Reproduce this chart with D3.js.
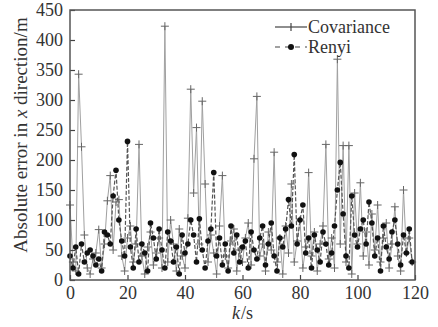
<!DOCTYPE html>
<html>
<head>
<meta charset="utf-8">
<script src="https://cdn.jsdelivr.net/npm/d3@7"></script>
<style>
  body { margin: 0; background: #fff; }
  svg text { font-family: "Liberation Serif", "Times New Roman", Times, serif; fill: #333; }
</style>
</head>
<body>
<div id="chart"></div>
<script>
// absolute error in x direction (m), one value per second k = 0..119
var covariance = [125, 30, 15, 343, 222, 75, 20, 10, 35, 45,
    84, 20, 60, 132, 174, 50, 130, 134, 40, 15,
    70, 90, 30, 60, 226, 40, 10, 55, 80, 25,
    45, 70, 20, 423, 30, 100, 60, 15, 85, 40,
    20, 103, 318, 145, 254, 60, 298, 160, 30, 75,
    45, 10, 90, 174, 40, 20, 65, 85, 15, 50,
    30, 70, 95, 25, 202, 306, 40, 60, 15, 80,
    50, 213, 30, 70, 10, 90, 45, 160, 30, 65,
    100, 20, 55, 179, 40, 80, 15, 60, 90, 226,
    35, 70, 20, 368, 60, 224, 30, 224, 10, 145,
    60, 162, 40, 80, 25, 110, 50, 125, 30, 70,
    95, 20, 60, 122, 40, 15, 150, 45, 70, 30];

var renyi = [40, 20, 55, 10, 60, 30, 45, 50, 40, 25,
    35, 15, 80, 75, 60, 140, 183, 100, 65, 40,
    231, 55, 20, 85, 30, 60, 45, 15, 95, 70,
    35, 85, 50, 20, 80, 65, 30, 55, 10, 75,
    45, 60, 100, 75, 30, 102, 50, 20, 65, 85,
    179, 40, 70, 25, 60, 15, 90, 45, 75, 30,
    55, 65, 20, 80, 50, 35, 70, 90, 25, 60,
    95, 40, 15, 70, 55, 85, 134, 90, 209, 60,
    100, 125, 45, 70, 20, 75, 50, 30, 80, 60,
    25, 45, 90, 150, 196, 110, 40, 20, 140, 75,
    55, 85, 100, 60, 130, 95, 40, 70, 15, 90,
    55, 35, 80, 100, 60, 25, 75, 45, 85, 30];

var xTicks = [0, 20, 40, 60, 80, 100, 120];
var yTicks = [0, 50, 100, 150, 200, 250, 300, 350, 400, 450];

function init() {
    var w = 438, h = 327;
    var left = 70, right = 415, top = 10, bottom = 280;
    var serif = "'Liberation Serif', 'Times New Roman', serif";

    var svg = d3.select("#chart").append("svg")
        .attr("width", w)
        .attr("height", h)
        .attr("font-family", serif);

    var x = d3.scaleLinear().domain([0, 120]).range([left, right]);
    var y = d3.scaleLinear().domain([0, 450]).range([bottom, top]);

    // series
    var line = d3.line()
        .x(function (d, i) { return x(i); })
        .y(function (d) { return y(d); });

    svg.append("path")
        .datum(covariance)
        .attr("fill", "none")
        .attr("stroke", "#a0a0a0")
        .attr("stroke-width", 1)
        .attr("d", line);

    svg.selectAll("path.plus")
        .data(covariance)
        .enter()
        .append("path")
        .attr("class", "plus")
        .attr("stroke", "#666")
        .attr("stroke-width", 1)
        .attr("d", function (d, i) {
            var cx = x(i), cy = y(d);
            return "M" + (cx - 4) + "," + cy + "H" + (cx + 4) + "M" + cx + "," + (cy - 4) + "V" + (cy + 4);
        });

    svg.append("path")
        .datum(renyi)
        .attr("fill", "none")
        .attr("stroke", "#555")
        .attr("stroke-width", 1.2)
        .attr("stroke-dasharray", "4,2")
        .attr("d", line);

    svg.selectAll("circle.dot")
        .data(renyi)
        .enter()
        .append("circle")
        .attr("class", "dot")
        .attr("cx", function (d, i) { return x(i); })
        .attr("cy", function (d) { return y(d); })
        .attr("r", 2.8)
        .attr("fill", "#111");

    // axes, ticks inward
    var xAxis = svg.append("g")
        .attr("transform", "translate(0," + bottom + ")")
        .call(d3.axisBottom(x).tickValues(xTicks).tickSizeInner(-5).tickSizeOuter(0).tickPadding(6));
    var yAxis = svg.append("g")
        .attr("transform", "translate(" + left + ",0)")
        .call(d3.axisLeft(y).tickValues(yTicks).tickSizeInner(-5).tickSizeOuter(0).tickPadding(7));

    [xAxis, yAxis].forEach(function (g) {
        g.attr("font-family", serif);
        g.select(".domain").remove();
        g.selectAll("line").attr("stroke", "#444").attr("stroke-width", 1.2);
        g.selectAll("text")
            .attr("font-size", 18)
            .attr("fill", "#333");
    });

    // frame
    svg.append("rect")
        .attr("x", left)
        .attr("y", top)
        .attr("width", right - left)
        .attr("height", bottom - top)
        .attr("fill", "none")
        .attr("stroke", "#555")
        .attr("stroke-width", 1.5);

    // axis titles
    svg.append("text")
        .attr("x", (left + right) / 2)
        .attr("y", 319)
        .attr("text-anchor", "middle")
        .attr("font-size", 18)
        .html("<tspan font-style='italic'>k</tspan><tspan dx='1'>/s</tspan>");

    svg.append("text")
        .attr("transform", "translate(27,135) rotate(-90)")
        .attr("text-anchor", "middle")
        .attr("font-size", 19)
        .html("Absolute error in <tspan font-style='italic'>x</tspan> direction/m");

    // legend
    var legend = svg.append("g");
    legend.append("line")
        .attr("x1", 275).attr("x2", 307).attr("y1", 27).attr("y2", 27)
        .attr("stroke", "#444").attr("stroke-width", 1.2);
    legend.append("path")
        .attr("d", "M291,23V31")
        .attr("stroke", "#444").attr("stroke-width", 1.2);
    legend.append("text")
        .attr("x", 308).attr("y", 33)
        .attr("font-size", 18)
        .text("Covariance");

    legend.append("line")
        .attr("x1", 275).attr("x2", 307).attr("y1", 47).attr("y2", 47)
        .attr("stroke", "#444").attr("stroke-width", 1.2)
        .attr("stroke-dasharray", "5,5");
    legend.append("circle")
        .attr("cx", 291).attr("cy", 47).attr("r", 3)
        .attr("fill", "#111");
    legend.append("text")
        .attr("x", 308).attr("y", 53)
        .attr("font-size", 18)
        .text("Renyi");
}
window.onload = init;
</script>
</body>
</html>
